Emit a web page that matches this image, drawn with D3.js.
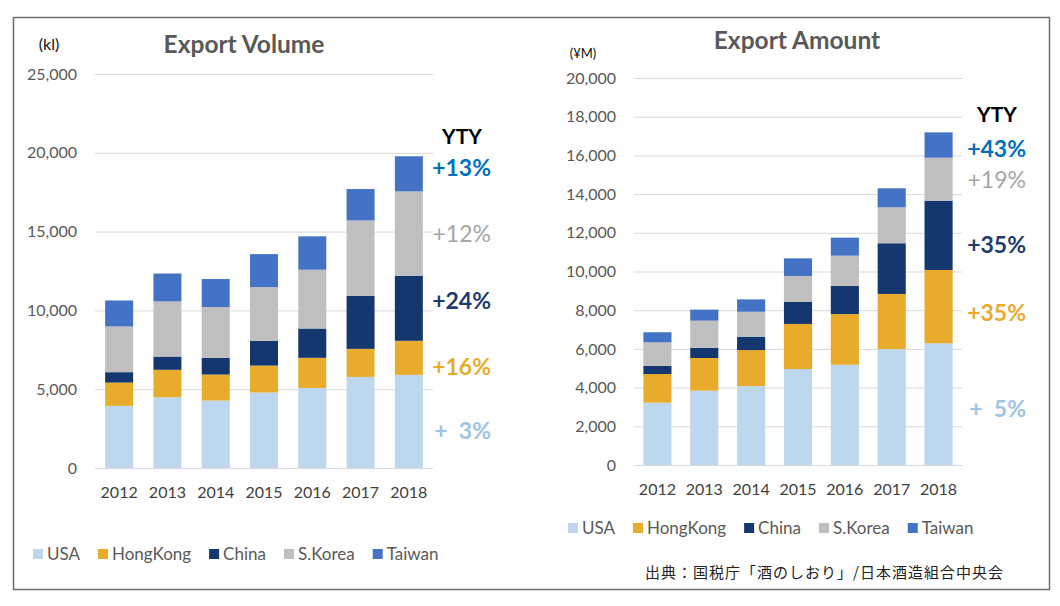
<!DOCTYPE html>
<html>
<head>
<meta charset="utf-8">
<script src="https://cdn.jsdelivr.net/npm/d3@7"></script>
<style>
  body { margin: 0; background: #fff; }
  text { font-family: Lato, "Open Sans", sans-serif; }
</style>
</head>
<body>
<div id="chart"></div>
<script>
const years = ["2012", "2013", "2014", "2015", "2016", "2017", "2018"];
const countries = ["USA", "HongKong", "China", "S.Korea", "Taiwan"];
const colors = ["#BDD7EE", "#E9AB2B", "#14376F", "#BFBFBF", "#4472C4"];

// Export volume (kl)
const volUSA = [3940, 4490, 4280, 4790, 5080, 5780, 5910];
const volHongKong = [1480, 1740, 1650, 1710, 1910, 1780, 2160];
const volChina = [660, 840, 1060, 1570, 1860, 3370, 4130];
const volKorea = [2900, 3500, 3220, 3410, 3730, 4780, 5350];
const volTaiwan = [1650, 1770, 1780, 2090, 2120, 1990, 2230];
const volTicks = [0, 5000, 10000, 15000, 20000, 25000];
const volYTY = ["+  3%", "+16%", "+24%", "+12%", "+13%"];

// Export amount (¥M)
const amtUSA = [3220, 3840, 4080, 4960, 5180, 5990, 6290];
const amtHongKong = [1480, 1690, 1860, 2330, 2620, 2850, 3790];
const amtChina = [420, 530, 690, 1150, 1450, 2620, 3580];
const amtKorea = [1220, 1400, 1290, 1330, 1570, 1860, 2220];
const amtTaiwan = [520, 570, 640, 910, 930, 980, 1310];
const amtTicks = [0, 2000, 4000, 6000, 8000, 10000, 12000, 14000, 16000, 18000, 20000];
const amtYTY = ["+  5%", "+35%", "+35%", "+19%", "+43%"];

const ytyColors = ["#9DC3E6", "#E9AB2B", "#1F3A70", "#A6A6A6", "#0070C0"];
const ytyWeights = ["bold", "bold", "bold", "normal", "bold"];

const svg = d3.select("#chart").append("svg")
  .attr("width", 1060)
  .attr("height", 606);

svg.append("rect")
  .attr("x", 13.5).attr("y", 17.5)
  .attr("width", 1036).attr("height", 572)
  .attr("fill", "none")
  .attr("stroke", "#6e6e6e")
  .attr("stroke-width", 1.5);

function drawChart(o) {
  const rows = years.map((yr, i) => {
    const r = { year: yr };
    countries.forEach((c, k) => r[c] = o.series[k][i]);
    return r;
  });
  const stacked = d3.stack().keys(countries)(rows);

  const x = d3.scaleBand().domain(years).range(o.xRange)
    .paddingInner(o.padIn).paddingOuter(o.padIn / 2);
  const y = d3.scaleLinear().domain([0, d3.max(o.ticks)]).range(o.yRange);

  const g = svg.append("g");

  // gridlines
  g.selectAll(".grid").data(o.ticks).enter().append("line")
    .attr("x1", o.xRange[0]).attr("x2", o.xRange[1])
    .attr("y1", d => y(d) + 0.5).attr("y2", d => y(d) + 0.5)
    .attr("stroke", "#D9D9D9").attr("stroke-width", 1);

  // y tick labels
  g.selectAll(".ytick").data(o.ticks).enter().append("text")
    .attr("x", o.tickX).attr("y", d => y(d))
    .attr("dy", "0.35em")
    .attr("text-anchor", "end")
    .attr("font-size", 16)
    .attr("fill", "#595959")
    .text(d => d3.format(",")(d));

  // bars
  g.selectAll(".layer").data(stacked).enter().append("g")
    .attr("fill", (d, i) => colors[i])
    .selectAll("rect").data(d => d).enter().append("rect")
    .attr("x", d => x(d.data.year))
    .attr("width", x.bandwidth())
    .attr("y", d => y(d[1]))
    .attr("height", d => y(d[0]) - y(d[1]));

  // year labels
  g.selectAll(".xtick").data(years).enter().append("text")
    .attr("x", d => x(d) + x.bandwidth() / 2)
    .attr("y", o.yearY)
    .attr("dy", "0.35em")
    .attr("text-anchor", "middle")
    .attr("font-size", 16)
    .attr("fill", "#404040")
    .text(d => d);

  // title and unit
  g.append("text")
    .attr("x", o.titleX).attr("y", o.titleY).attr("dy", "0.35em")
    .attr("text-anchor", "middle")
    .attr("font-size", 24.5).attr("font-weight", "bold")
    .attr("fill", "#595959")
    .text(o.title);
  g.append("text")
    .attr("x", o.unitX).attr("y", o.unitY).attr("dy", "0.35em")
    .attr("text-anchor", "middle")
    .attr("font-size", o.unitSize)
    .attr("fill", "#111")
    .text(o.unit);

  // YTY annotations next to the last bar
  g.append("text")
    .attr("x", o.ytyX - 29).attr("y", o.ytyHeadY).attr("dy", "0.35em")
    .attr("text-anchor", "middle")
    .attr("font-size", 21).attr("font-weight", "bold")
    .attr("fill", "#000")
    .text("YTY");
  const last = years.length - 1;
  g.selectAll(".yty").data(stacked).enter().append("text")
    .attr("x", o.ytyX)
    .attr("y", (d, i) => y((d[last][0] + d[last][1]) / 2) + o.ytyNudge[i])
    .attr("dy", "0.35em")
    .attr("text-anchor", "end")
    .attr("font-size", 23)
    .attr("font-weight", (d, i) => ytyWeights[i])
    .attr("fill", (d, i) => ytyColors[i])
    .style("white-space", "pre")
    .text((d, i) => o.yty[i]);

  // legend
  let lx = o.legendX;
  countries.forEach((c, i) => {
    g.append("rect")
      .attr("x", lx).attr("y", o.legendY - 5)
      .attr("width", 10).attr("height", 10)
      .attr("fill", colors[i]);
    const t = g.append("text")
      .attr("x", lx + 14).attr("y", o.legendY).attr("dy", "0.35em")
      .attr("font-size", 17)
      .attr("fill", "#595959")
      .text(c);
    lx += 14 + t.node().getComputedTextLength() + 18;
  });
}

drawChart({
  series: [volUSA, volHongKong, volChina, volKorea, volTaiwan],
  ticks: volTicks,
  yty: volYTY,
  xRange: [95, 433], yRange: [468, 74], padIn: 0.42,
  tickX: 77, yearY: 492,
  title: "Export Volume", titleX: 244, titleY: 44,
  unit: "(kl)", unitX: 49, unitY: 44, unitSize: 16,
  ytyX: 491, ytyHeadY: 137, ytyNudge: [10, 9, -7, 0, -6],
  legendX: 33, legendY: 554
});

drawChart({
  series: [amtUSA, amtHongKong, amtChina, amtKorea, amtTaiwan],
  ticks: amtTicks,
  yty: amtYTY,
  xRange: [634, 962], yRange: [465, 78], padIn: 0.4,
  tickX: 616, yearY: 489,
  title: "Export Amount", titleX: 797, titleY: 40,
  unit: "(¥M)", unitX: 583, unitY: 53, unitSize: 13,
  ytyX: 1026, ytyHeadY: 115, ytyNudge: [5, 6, 10, 1, 4],
  legendX: 568, legendY: 528
});

svg.append("text")
  .attr("x", 645).attr("y", 573).attr("dy", "0.35em")
  .attr("font-size", 15)
  .attr("letter-spacing", 1)
  .attr("fill", "#222")
  .style("font-family", "'Noto Sans CJK JP', sans-serif")
  .text("出典：国税庁「酒のしおり」/日本酒造組合中央会");
</script>
</body>
</html>
